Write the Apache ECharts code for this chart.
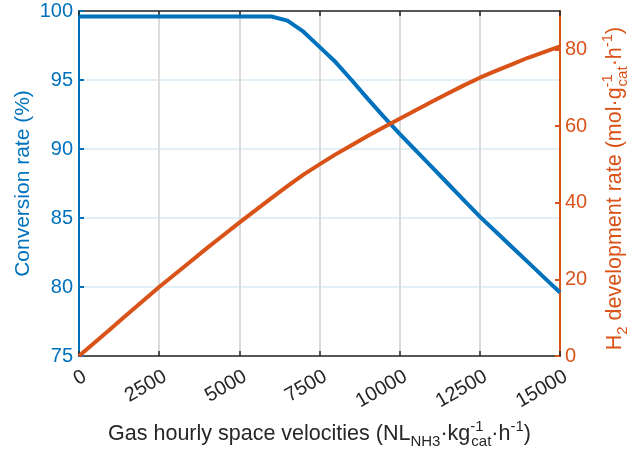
<!DOCTYPE html>
<html>
<head>
<meta charset="utf-8">
<script src="https://cdn.jsdelivr.net/npm/echarts@6/dist/echarts.min.js"></script>
<style>
html,body{margin:0;padding:0;background:#fff;}
#chart{width:632px;height:457px;}
</style>
</head>
<body>
<div id="chart"></div>
<script>
// Gas hourly space velocity (NL_NH3 kg_cat^-1 h^-1)
const ghsv = [0, 500, 1000, 1500, 2000, 2500, 3000, 3500, 4000, 4500, 5000, 5500, 6000, 6500, 7000, 7500, 8000, 8500, 9000, 9500, 10000, 10500, 11000, 11500, 12000, 12500, 13000, 13500, 14000, 14500, 15000];
// Conversion rate (%)
const conversion = [99.6, 99.6, 99.6, 99.6, 99.6, 99.6, 99.6, 99.6, 99.6, 99.6, 99.6, 99.6, 99.6, 99.3, 98.5, 97.4, 96.3, 95.0, 93.65, 92.35, 91.1, 89.9, 88.7, 87.5, 86.3, 85.1, 84.0, 82.9, 81.8, 80.7, 79.6];
// H2 development rate (mol g_cat^-1 h^-1)
const h2rate = [0, 3.6, 7.2, 10.8, 14.4, 18.0, 21.4, 24.8, 28.2, 31.5, 34.8, 38.0, 41.2, 44.3, 47.3, 50.0, 52.6, 55.0, 57.4, 59.7, 61.9, 64.1, 66.3, 68.5, 70.6, 72.6, 74.4, 76.1, 77.8, 79.3, 80.8];
const rightTicks = [0, 20, 40, 60, 80];

const BLUE = '#0072BD', ORANGE = '#D95319', DARK = '#262626';
const FONT = 'Liberation Sans, Arial, sans-serif';

const chart = echarts.init(document.getElementById('chart'));
const rich = {
  n: {align: 'left', fontFamily: FONT},
  sub: {align: 'left', fontSize: 15, verticalAlign: 'bottom', lineHeight: 15, fontFamily: FONT},
  sup: {align: 'left', fontSize: 15, verticalAlign: 'top', lineHeight: 15, fontFamily: FONT},
  supz: {align: 'left', fontSize: 15, verticalAlign: 'top', lineHeight: 15, width: 1, fontFamily: FONT}
};
chart.setOption({
  animation: false,
  backgroundColor: '#fff',
  grid: {left: 79, right: 72, top: 11, bottom: 101, containLabel: false, outerBoundsMode: 'none'},
  xAxis: [{
    type: 'value', min: 0, max: 15000, interval: 2500, position: 'bottom',
    name: '{n|Gas hourly space velocities (NL}{sub|NH3}{n|·kg}{supz|-1}{sub|cat}{n|·h}{sup|-1}{n|)}',
    nameLocation: 'middle', nameGap: 63, nameMoveOverlap: false,
    nameTextStyle: {color: DARK, fontSize: 21.5, fontFamily: FONT, lineHeight: 30, rich: rich},
    axisLine: {onZero: false, lineStyle: {color: DARK, width: 1.5}},
    axisTick: {inside: true, length: 5, lineStyle: {color: DARK, width: 1.5}},
    axisLabel: {rotate: 30, margin: 11, color: DARK, fontSize: 20, fontFamily: FONT,
      align: 'right', verticalAlign: 'top', padding: [0, -1, 0, 0],
      formatter: v => String(v)},
    splitLine: {show: true, lineStyle: {color: '#dcdcdc', width: 2}}
  }, {
    type: 'value', min: 0, max: 15000, interval: 2500, position: 'top',
    axisLine: {onZero: false, lineStyle: {color: DARK, width: 1.5}},
    axisTick: {inside: true, length: 5, lineStyle: {color: DARK, width: 1.5}},
    axisLabel: {show: false},
    splitLine: {show: false}
  }],
  yAxis: [{
    type: 'value', min: 75, max: 100, interval: 5, position: 'left',
    name: 'Conversion rate (%)', nameLocation: 'middle', nameGap: 45, nameMoveOverlap: false,
    nameTextStyle: {color: BLUE, fontSize: 21, fontFamily: FONT},
    axisLine: {show: true, onZero: false, lineStyle: {color: BLUE, width: 2}},
    axisTick: {show: true, inside: true, length: 5, lineStyle: {color: BLUE, width: 2}},
    axisLabel: {color: BLUE, fontSize: 20, fontFamily: FONT, margin: 6},
    splitLine: {show: true, lineStyle: {color: '#d9eaf5', width: 1.5}}
  }, {
    type: 'value', min: 0, max: 90, interval: 20, position: 'right',
    name: '{n|H}{sub|2}{n| development rate (mol·g}{supz|-1}{sub|cat}{n|·h}{sup|-1}{n|)}',
    nameLocation: 'middle', nameGap: 40, nameMoveOverlap: false,
    nameTextStyle: {color: ORANGE, fontSize: 21.5, fontFamily: FONT, lineHeight: 30, padding: [0, 10, 0, 0], rich: rich},
    axisLine: {show: true, onZero: false, lineStyle: {color: ORANGE, width: 2}},
    axisTick: {show: true, inside: true, length: 5, customValues: rightTicks, lineStyle: {color: ORANGE, width: 2}},
    axisLabel: {color: ORANGE, fontSize: 20, fontFamily: FONT, margin: 5, customValues: rightTicks},
    splitLine: {show: false}
  }],
  series: [{
    type: 'line', xAxisIndex: 0, yAxisIndex: 0, showSymbol: false, symbol: 'none',
    data: ghsv.map((g, i) => [g, conversion[i]]),
    lineStyle: {color: BLUE, width: 4}, itemStyle: {color: BLUE}, z: 3
  }, {
    type: 'line', xAxisIndex: 0, yAxisIndex: 1, showSymbol: false, symbol: 'none',
    data: ghsv.map((g, i) => [g, h2rate[i]]),
    lineStyle: {color: ORANGE, width: 4}, itemStyle: {color: ORANGE}, z: 4
  }]
});
</script>
</body>
</html>
